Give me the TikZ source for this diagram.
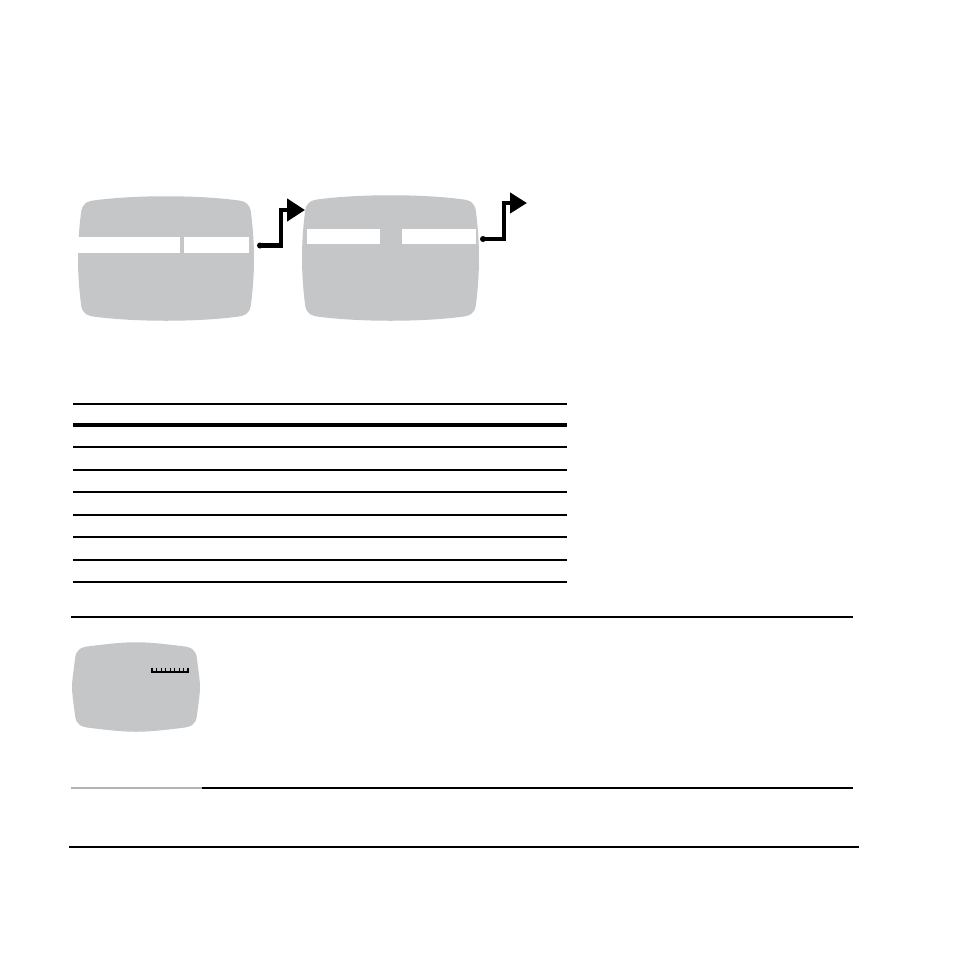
\documentclass[tikz,border=0pt]{standalone}
\usetikzlibrary{arrows.meta}
\definecolor{screengray}{RGB}{197,198,200}
\definecolor{rulegray}{RGB}{180,180,180}
\newcommand{\tvshape}[5]{% name, L, R, T, B
  \fill[screengray] ({#2+4},{#4+18}) .. controls ({#2+5},{#4+8}) and ({#2+10},{#4+6}) .. ({#2+20},{#4+5})
    .. controls ({#2+60},{#4}) and ({#3-60},{#4}) .. ({#3-20},{#4+5})
    .. controls ({#3-10},{#4+6}) and ({#3-5},{#4+8}) .. ({#3-4},{#4+18})
    .. controls ({#3},{#4+50}) and ({#3},{#5-50}) .. ({#3-4},{#5-18})
    .. controls ({#3-5},{#5-8}) and ({#3-10},{#5-6}) .. ({#3-20},{#5-5})
    .. controls ({#3-60},{#5}) and ({#2+60},{#5}) .. ({#2+20},{#5-5})
    .. controls ({#2+10},{#5-6}) and ({#2+5},{#5-8}) .. ({#2+4},{#5-18})
    .. controls ({#2},{#5-50}) and ({#2},{#4+50}) .. cycle;
  \coordinate (#1) at ({(#2+#3)/2},{(#4+#5)/2});}
\begin{document}
\begin{tikzpicture}[x=1pt,y=-1pt,
  bar/.style={fill=white},
  flow/.style={line width=4.6pt,line join=miter,-{Triangle[length=18pt,width=22pt]}},
  flowtwo/.style={line width=4.6pt,line join=miter,-{Triangle[length=17pt,width=20pt]}},
  thin/.style={line width=1.1pt},
  thick/.style={line width=4pt}]
\useasboundingbox (0,0) rectangle (954,954);
% screens
\tvshape{s1}{77}{255}{195}{322}
\fill[bar] (78,237) rectangle (180,253);
\fill[bar] (184,237) rectangle (249,253);
\tvshape{s2}{301}{480}{194}{322}
\fill[bar] (307,229) rectangle (380,244);
\fill[bar] (402,229) rectangle (476,244);
% arrows
\coordinate (a1s) at (260,245.5);
\coordinate (a1c) at (281,245.5);
\coordinate (a1t) at (281,210);
\coordinate (a1e) at (305,210);
\fill (a1s) circle (3pt);
\draw[flow] (a1s) -- (a1c) -- (a1t) -- (a1e);
\coordinate (a2s) at (483,239);
\coordinate (a2c) at (504,239);
\coordinate (a2t) at (504,203);
\coordinate (a2e) at (527,203);
\fill (a2s) circle (3pt);
\draw[flowtwo] (a2s) -- (a2c) -- (a2t) -- (a2e);
% table rules
\draw[thin] (73,404) -- (567,404);
\draw[thick] (73,425) -- (567,425);
\foreach \y in {447,470,492,515,537,560,582} \draw[thin] (73,\y) -- (567,\y);
% section rules
\draw[thin] (71,617) -- (853,617);
\tvshape{s3}{71}{201}{641}{733}
\draw[line width=1.1pt] (152,668) -- (152,672) -- (188,672) -- (188,668);
\foreach \i in {1,...,7} \draw[line width=1pt] ({152+\i*4.5},668) -- ({152+\i*4.5},672);
\draw[rulegray,line width=2pt] (71,788) -- (202,788);
\draw[thin] (202,788) -- (853,788);
\draw[thin] (69,847) -- (859,847);
\end{tikzpicture}
\end{document}
